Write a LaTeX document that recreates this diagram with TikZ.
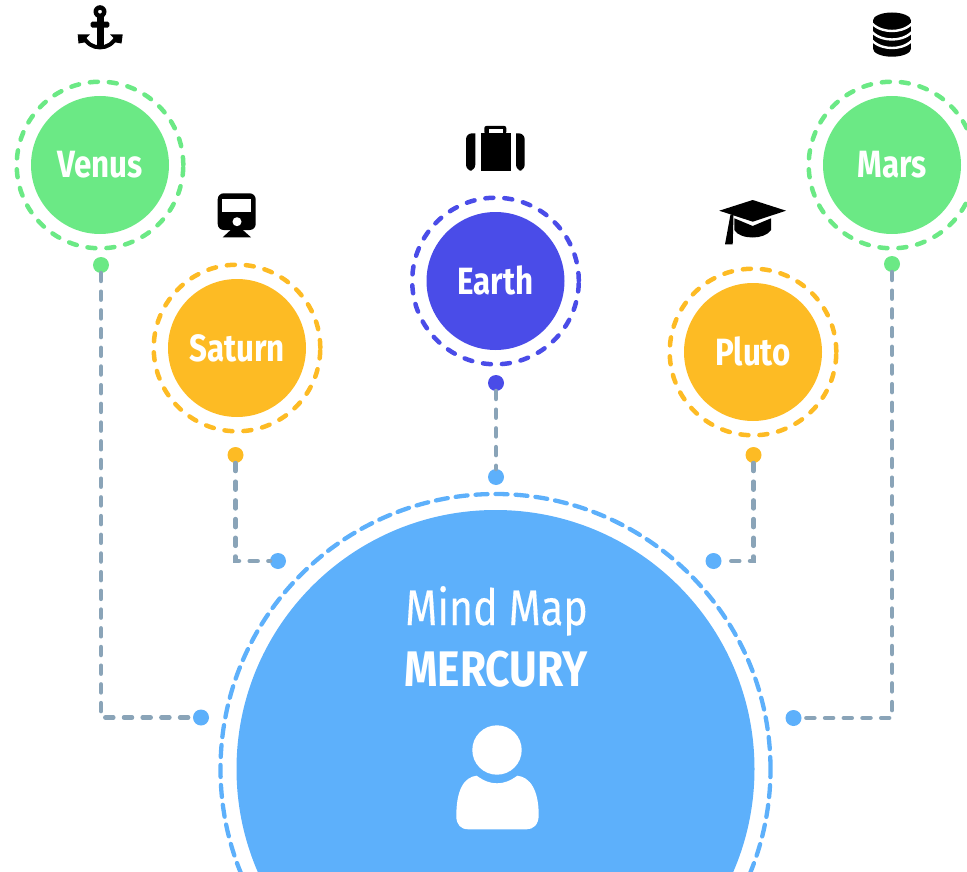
\documentclass[tikz,border=0pt]{standalone}
\usepackage{fontspec}
\setmainfont[FakeStretch=0.825,BoldFont={Fira Sans Bold},BoldFeatures={FakeStretch=0.825},FakeBold=0.3]{Fira Sans}
\newfontfamily\discfont[FakeStretch=0.825]{Fira Sans Bold}
\newfontfamily\mercfont[FakeStretch=0.85]{Fira Sans Bold}
\definecolor{cgreen}{HTML}{6BE985}
\definecolor{cyellow}{HTML}{FDBB24}
\definecolor{cindigo}{HTML}{4A4CE8}
\definecolor{cblue}{HTML}{5DB0FB}
\definecolor{cgrey}{HTML}{8AA4B8}
\tikzset{
  disc/.style={circle,fill=#1,text=white,minimum size=138pt,inner sep=0pt,outer sep=0pt,
    font=\fontsize{38}{40}\discfont,text height=26pt,text depth=0pt},
  ring/.style={circle,draw=#1,line width=4.5pt,minimum size=166.6pt,inner sep=0pt,outer sep=0pt,
    dash pattern=on 8pt off 11pt,line cap=round},
  dot/.style={circle,fill=#1,minimum size=16pt,inner sep=0pt,outer sep=0pt},
  link/.style={draw=cgrey,line width=4.5pt,dash pattern=on 8pt off 10.7pt,line cap=round},
  big/.style={text=white,anchor=base,inner sep=0pt,font=\fontsize{50}{52}\selectfont},
}
\begin{document}
\begin{tikzpicture}[x=1pt,y=-1pt]
\useasboundingbox (0,0) rectangle (967,872);
\clip (0,0) rectangle (967,872);
% discs
\node[disc=cgreen] (venus) at (100,165) {Venus};
\node[ring=cgreen] (venusr) at (100,165) {};
\node[disc=cyellow] (saturn) at (237,348) {Saturn};
\node[ring=cyellow] (saturnr) at (237,348) {};
\node[disc=cindigo] (earth) at (495.5,281) {Earth};
\node[ring=cindigo] (earthr) at (495.5,281) {};
\node[disc=cyellow] (pluto) at (753,352) {Pluto};
\node[ring=cyellow] (plutor) at (753,352) {};
\node[disc=cgreen] (mars) at (892,165) {Mars};
\node[ring=cgreen] (marsr) at (892,165) {};
\node[circle,fill=cblue,minimum size=518pt,inner sep=0pt,outer sep=0pt] (merc) at (495.5,769) {};
\node[circle,draw=cblue,line width=4.3pt,minimum size=550pt,inner sep=0pt,outer sep=0pt,dash pattern=on 12pt off 8pt,line cap=round] (mercr) at (495.5,769) {};
\node[big] (t1) at (496.5,625) {Mind Map};
\node[big,font=\fontsize{50}{52}\mercfont] (t2) at (496,686.7) {MERCURY};
% dots
\node[dot=cgreen] (dv) at (101,265) {};
\node[dot=cyellow] (ds) at (235.5,455) {};
\node[dot=cindigo] (de) at (496,383) {};
\node[dot=cyellow] (dp) at (753.5,455) {};
\node[dot=cgreen] (dm) at (892,264) {};
\node[dot=cblue] (bv) at (201,717.5) {};
\node[dot=cblue] (bs) at (278,561) {};
\node[dot=cblue] (be) at (496,477) {};
\node[dot=cblue] (bp) at (713.5,561) {};
\node[dot=cblue] (bm) at (793.5,718) {};
% connectors
\draw[link] (dv) |- (bv);
\draw[link] (ds) |- (bs);
\draw[link] (de) -- (be);
\draw[link] (dp) |- (bp);
\draw[link] (dm) |- (bm);
% anchor
\fill[even odd rule] (100,11.7) circle (6.5) (100,11.7) circle (2);
\fill[rounded corners=1.5] (90.7,21.7) rectangle (109.3,27.7);
\fill (96.7,17) rectangle (104,48);
\draw[line width=4pt] (83,36) .. controls (87,44) and (93,47.4) .. (100,47.4) .. controls (107,47.4) and (113,44) .. (117,36);
\fill (77.7,34.3) -- (90,34.3) -- (85.5,39) -- (87,42) -- (78.5,43.5) -- cycle;
\fill (122.7,34.3) -- (110,34.3) -- (114.5,39) -- (113,42) -- (121.5,43.5) -- cycle;
% train
\fill[rounded corners=6] (217.7,193.3) rectangle (255.7,230);
\fill[white] (222.3,199.3) rectangle (251,212.3);
\fill[white] (237,221.7) circle (4.5);
\fill (231.7,229) -- (241.7,229) -- (251,237.3) -- (222.7,237.3) -- cycle;
% briefcase
\fill[rounded corners=6] (475.3,133.3) -- (466,133.3) -- (466,170.7) -- (475.3,170.7) [sharp corners] -- cycle;
\fill (480.7,133.3) rectangle (511,170.7);
\fill[rounded corners=6] (516,133.3) -- (524.7,133.3) -- (524.7,170.7) -- (516,170.7) [sharp corners] -- cycle;
\fill[rounded corners=2] (484.3,134) -- (484.3,126) -- (506.3,126) -- (506.3,134) -- cycle;
\fill[white] (488.7,129.3) rectangle (502.7,133.3);
% graduation cap
\fill (719.3,210.7) -- (752.7,200) -- (786,210.7) -- (752.7,221.7) -- cycle;
\fill (734.3,218.3) -- (752.7,226) -- (771,218.3) -- (771,230) .. controls (768,235) and (760,237.5) .. (752.7,237.5) .. controls (745,237.5) and (737,235) .. (734.3,230) -- cycle;
\fill (730.5,214.5) -- (733.5,215.5) -- (732.7,244.3) -- (725,244.3) -- cycle;
% database
\fill (873,20.5) rectangle (911,48.7);
\fill (892,20.5) ellipse [x radius=19,y radius=8];
\fill (892,48.7) ellipse [x radius=19,y radius=8];
\draw[white,line width=2.4pt] (872,23.5) .. controls (878,29.5) and (886,31) .. (892,31) .. controls (898,31) and (906,29.5) .. (912,23.5);
\draw[white,line width=2.4pt] (872,32) .. controls (878,38) and (886,39.5) .. (892,39.5) .. controls (898,39.5) and (906,38) .. (912,32);
\draw[white,line width=2.4pt] (872,40.5) .. controls (878,46.5) and (886,48) .. (892,48) .. controls (898,48) and (906,46.5) .. (912,40.5);
% user
\fill[white] (497,750) circle (24.7);
\fill[white] (476.7,775.7) .. controls (484,781) and (490,783.3) .. (497,783.3) .. controls (504,783.3) and (510,781) .. (517.3,775.7) .. controls (530,777) and (538.7,790) .. (538.7,815) .. controls (538.7,825) and (533,829.3) .. (526.7,829.3) -- (468.3,829.3) .. controls (461,829.3) and (456.3,825) .. (456.3,816) .. controls (456.3,790) and (464,777) .. (476.7,775.7) -- cycle;
\end{tikzpicture}
\end{document}
